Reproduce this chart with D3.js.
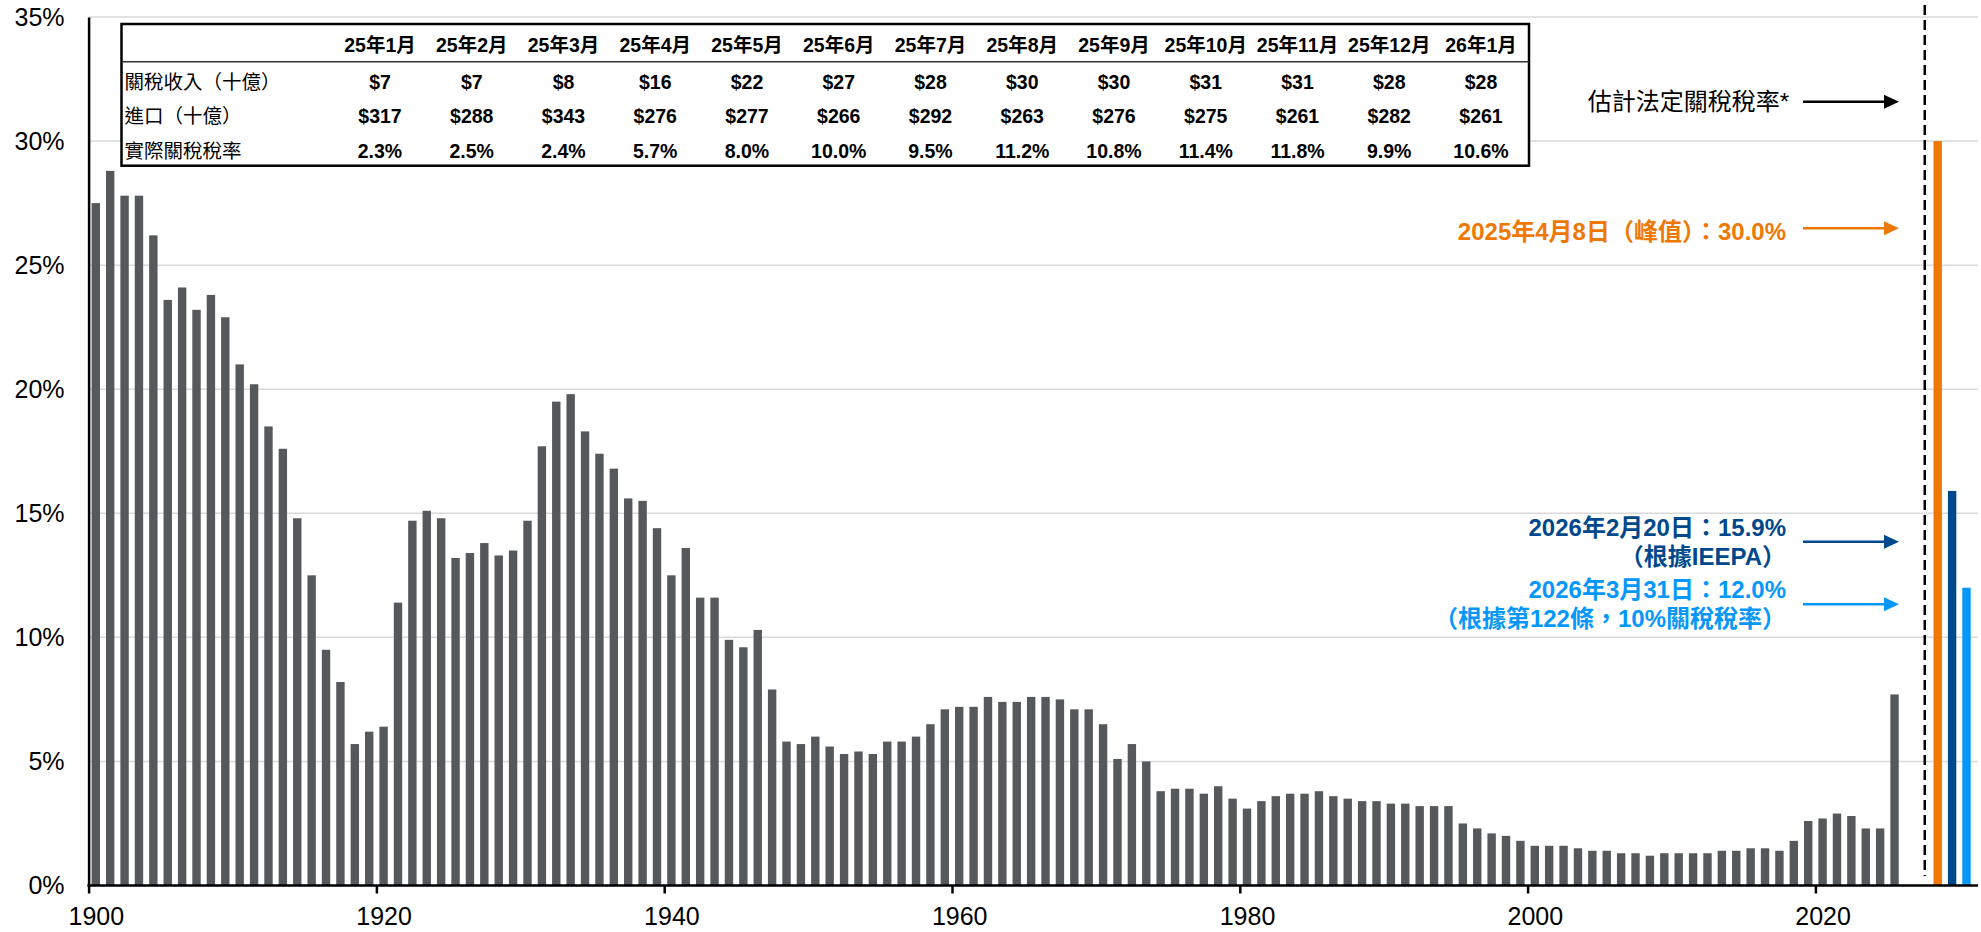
<!DOCTYPE html>
<html>
<head>
<meta charset="utf-8">
<script src="https://cdn.jsdelivr.net/npm/d3@7"></script>
<style>
  html, body { margin: 0; padding: 0; background: #fff; }
  svg { display: block; font-family: "Liberation Sans", Arial, "Noto Sans CJK TC", sans-serif; }
</style>
</head>
<body>
<div id="chart"></div>
<script>
'use strict';

// yearly effective tariff rate (%), 1900 - 2025
let years = d3.range(1900, 2026);
let tariffRate = [
  27.5, 28.8, 27.8, 27.8, 26.2, 23.6, 24.1, 23.2, 23.8, 22.9,
  21.0, 20.2, 18.5, 17.6, 14.8, 12.5, 9.5, 8.2, 5.7, 6.2,
  6.4, 11.4, 14.7, 15.1, 14.8, 13.2, 13.4, 13.8, 13.3, 13.5,
  14.7, 17.7, 19.5, 19.8, 18.3, 17.4, 16.8, 15.6, 15.5, 14.4,
  12.5, 13.6, 11.6, 11.6, 9.9, 9.6, 10.3, 7.9, 5.8, 5.7,
  6.0, 5.6, 5.3, 5.4, 5.3, 5.8, 5.8, 6.0, 6.5, 7.1,
  7.2, 7.2, 7.6, 7.4, 7.4, 7.6, 7.6, 7.5, 7.1, 7.1,
  6.5, 5.1, 5.7, 5.0, 3.8, 3.9, 3.9, 3.7, 4.0, 3.5,
  3.1, 3.4, 3.6, 3.7, 3.7, 3.8, 3.6, 3.5, 3.4, 3.4,
  3.3, 3.3, 3.2, 3.2, 3.2, 2.5, 2.3, 2.1, 2.0, 1.8,
  1.6, 1.6, 1.6, 1.5, 1.4, 1.4, 1.3, 1.3, 1.2, 1.3,
  1.3, 1.3, 1.3, 1.4, 1.4, 1.5, 1.5, 1.4, 1.8, 2.6,
  2.7, 2.9, 2.8, 2.3, 2.3, 7.7
];

// estimated statutory rates, drawn right of the dashed line
let scenarioSlots = [2028, 2029, 2030];
let scenarioValues = [30.0, 15.9, 12.0];
let scenarioLines = [
  ['2025年4月8日（峰值）：30.0%'],
  ['2026年2月20日：15.9%', '（根據IEEPA）'],
  ['2026年3月31日：12.0%', '（根據第122條，10%關稅稅率）']
];
let statutoryLabel = '估計法定關稅稅率*';

// monthly table
let months = ['25年1月', '25年2月', '25年3月', '25年4月', '25年5月', '25年6月', '25年7月',
              '25年8月', '25年9月', '25年10月', '25年11月', '25年12月', '26年1月'];
let rowLabels = ['關稅收入（十億）', '進口（十億）', '實際關稅稅率'];
let tariffRevenue = [7, 7, 8, 16, 22, 27, 28, 30, 30, 31, 31, 28, 28];
let imports = [317, 288, 343, 276, 277, 266, 292, 263, 276, 275, 261, 282, 261];
let effectiveRate = [2.3, 2.5, 2.4, 5.7, 8.0, 10.0, 9.5, 11.2, 10.8, 11.4, 11.8, 9.9, 10.6];

let yTicks = [0, 5, 10, 15, 20, 25, 30, 35];
let xTicks = [1900, 1920, 1940, 1960, 1980, 2000, 2020];

let grey = '#55595c',
    scenarioColors = ['#ef7805', '#00488c', '#0597fb'];

let width = 1981, height = 932;
let margin = {left: 88.6, right: 1978, top: 17, bottom: 885.5};

let svg = d3.select('#chart').append('svg')
    .attr('width', width)
    .attr('height', height);

let x = d3.scaleLinear().domain([1900, 2020]).range([margin.left, margin.left + 120 * 14.39]);
let y = d3.scaleLinear().domain([0, 35]).range([margin.bottom, margin.top]);
let step = x(1901) - x(1900),
    barW = 8.4;

// gridlines
svg.append('g')
  .selectAll('line')
  .data(yTicks.filter(d => d > 0))
  .join('line')
    .attr('x1', margin.left)
    .attr('x2', margin.right)
    .attr('y1', d => y(d))
    .attr('y2', d => y(d))
    .attr('stroke', '#d9d9d9')
    .attr('stroke-width', 1.5);

// y axis
let yAxis = svg.append('g')
  .attr('transform', 'translate(' + margin.left + ',0)')
  .call(d3.axisLeft(y).tickValues(yTicks).tickSize(0).tickPadding(24).tickFormat(d => d + '%'));
yAxis.select('.domain').attr('stroke', '#000').attr('stroke-width', 2.5);
yAxis.selectAll('text').attr('font-size', 25).attr('fill', '#000').attr('font-family', null);

// main bars
svg.append('g')
  .selectAll('rect')
  .data(years)
  .join('rect')
    .attr('x', (d) => x(d + 0.5) - barW / 2)
    .attr('y', (d, i) => y(tariffRate[i]))
    .attr('width', barW)
    .attr('height', (d, i) => y(0) - y(tariffRate[i]))
    .attr('fill', grey);

// dashed divider
let divX = x(2027.6);
svg.append('line')
  .attr('x1', divX).attr('x2', divX)
  .attr('y1', 5).attr('y2', 876)
  .attr('stroke', '#000')
  .attr('stroke-width', 2.5)
  .style('stroke-dasharray', '10, 5');

// scenario bars
svg.append('g')
  .selectAll('rect')
  .data(scenarioSlots)
  .join('rect')
    .attr('x', d => x(d + 0.5) - barW / 2)
    .attr('y', (d, i) => y(scenarioValues[i]))
    .attr('width', barW)
    .attr('height', (d, i) => y(0) - y(scenarioValues[i]))
    .attr('fill', (d, i) => scenarioColors[i]);

// x axis
let xAxis = svg.append('g')
  .attr('transform', 'translate(0,' + margin.bottom + ')')
  .call(d3.axisBottom(x).tickValues(xTicks).tickSize(8).tickPadding(14).tickFormat(d3.format('d')));
xAxis.select('.domain').remove();
xAxis.selectAll('.tick line').attr('stroke', '#000').attr('stroke-width', 2.5);
xAxis.selectAll('text')
  .attr('font-size', 25)
  .attr('fill', '#000')
  .attr('font-family', null)
  .attr('x', step / 2);
svg.append('line')
  .attr('x1', margin.left - 1.2).attr('x2', margin.right)
  .attr('y1', margin.bottom).attr('y2', margin.bottom)
  .attr('stroke', '#000')
  .attr('stroke-width', 2.5);

// annotations with arrows
function arrow(yPos, color) {
  let x0 = 1803, x1 = 1899;
  svg.append('line')
    .attr('x1', x0).attr('x2', x1 - 12)
    .attr('y1', yPos).attr('y2', yPos)
    .attr('stroke', color)
    .attr('stroke-width', 2.5);
  svg.append('path')
    .attr('d', 'M' + (x1 - 15) + ',' + (yPos - 7) + 'L' + x1 + ',' + yPos + 'L' + (x1 - 15) + ',' + (yPos + 7) + 'Z')
    .attr('fill', color);
}

svg.append('text')
  .attr('x', 1789).attr('y', 110)
  .attr('text-anchor', 'end')
  .attr('font-size', 24)
  .attr('fill', '#000')
  .text(statutoryLabel);
arrow(101.7, '#000');

let annoY = [[240], [536, 565], [598, 627]],
    arrowY = [228.3, 541.7, 604.3];

scenarioLines.forEach(function(lines, i) {
  lines.forEach(function(s, j) {
    svg.append('text')
      .attr('x', 1786)
      .attr('y', annoY[i][j])
      .attr('text-anchor', 'end')
      .attr('font-size', 24)
      .attr('font-weight', 'bold')
      .attr('fill', scenarioColors[i])
      .text(s);
  });
  arrow(arrowY[i], scenarioColors[i]);
});

// monthly table
let tbl = {left: 121.5, right: 1529, top: 24, bottom: 165.7, headLine: 61.7};
let col = d3.scalePoint().domain(months).range([380, 1481]);
let rowY = [88.5, 123, 157.5];

let table = svg.append('g');
table.append('rect')
  .attr('x', tbl.left).attr('y', tbl.top)
  .attr('width', tbl.right - tbl.left)
  .attr('height', tbl.bottom - tbl.top)
  .attr('fill', '#fff')
  .attr('stroke', '#000')
  .attr('stroke-width', 2.5);
table.append('line')
  .attr('x1', tbl.left).attr('x2', tbl.right)
  .attr('y1', tbl.headLine).attr('y2', tbl.headLine)
  .attr('stroke', '#333')
  .attr('stroke-width', 1.5);

table.selectAll('text.head')
  .data(months)
  .join('text')
    .attr('class', 'head')
    .attr('x', d => col(d))
    .attr('y', 52)
    .attr('text-anchor', 'middle')
    .attr('font-size', 19.5)
    .attr('font-weight', 'bold')
    .text(d => d);

let rows = [
  tariffRevenue.map(v => '$' + v),
  imports.map(v => '$' + v),
  effectiveRate.map(v => v.toFixed(1) + '%')
];

rows.forEach(function(r, i) {
  table.append('text')
    .attr('x', tbl.left + 3)
    .attr('y', rowY[i])
    .attr('font-size', 19.5)
    .text(rowLabels[i]);
  table.selectAll('text.row' + i)
    .data(r)
    .join('text')
      .attr('class', 'row' + i)
      .attr('x', (d, k) => col(months[k]))
      .attr('y', rowY[i])
      .attr('text-anchor', 'middle')
      .attr('font-size', 19.5)
      .attr('font-weight', 'bold')
      .text(d => d);
});
</script>
</body>
</html>
